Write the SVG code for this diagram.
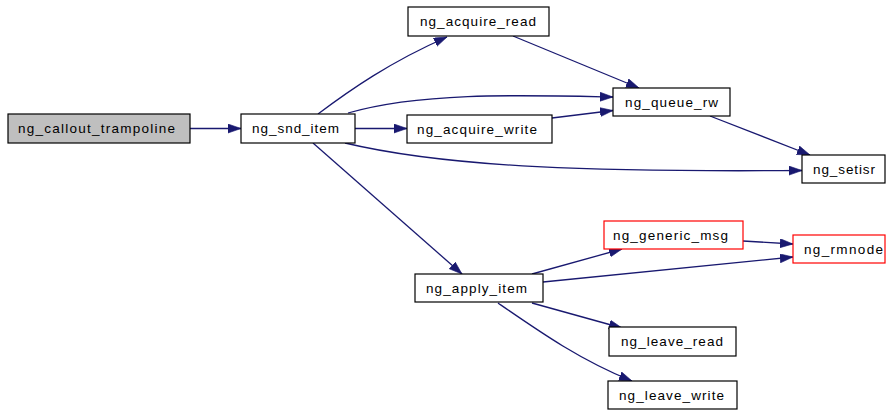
<svg xmlns="http://www.w3.org/2000/svg" width="886" height="410" viewBox="0 0 886 410">
  <style>
    .node rect { fill: #ffffff; stroke: #000000; stroke-width: 1.2; }
    .node.root rect { fill: #bfbfbf; }
    .node.ext rect { stroke: #ff0000; }
    .node text { font-family: "Liberation Sans", Arial, Helvetica, sans-serif; font-size: 13.5px; fill: #000000; }
    .edges path { fill: none; stroke: #191970; stroke-width: 1.3; marker-end: url(#arrow); }
  </style>
  <defs>
    <marker id="arrow" markerUnits="userSpaceOnUse" markerWidth="14" markerHeight="10" refX="13" refY="4.5" orient="auto">
      <path d="M0,0 L13,4.5 L0,9 z" fill="#191970" stroke="#191970" stroke-width="0.6"/>
    </marker>
  </defs>
  <rect width="886" height="410" fill="#ffffff"/>

  <g class="edges">
    <!-- ng_callout_trampoline -> ng_snd_item -->
    <path d="M190,128.5 L241,128.5"/>
    <!-- ng_snd_item -> ng_acquire_read -->
    <path d="M318,114 C350,90 390,62 447,37"/>
    <!-- ng_snd_item -> ng_queue_rw -->
    <path d="M348,113 C420,92 520,95 613,97"/>
    <!-- ng_snd_item -> ng_acquire_write -->
    <path d="M355,128.5 L407,128.5"/>
    <!-- ng_snd_item -> ng_setisr -->
    <path d="M345,143 C450,168 600,172 802,170.5"/>
    <!-- ng_snd_item -> ng_apply_item -->
    <path d="M313,143 L462,274"/>
    <!-- ng_acquire_read -> ng_queue_rw -->
    <path d="M513,36 L639,88"/>
    <!-- ng_acquire_write -> ng_queue_rw -->
    <path d="M552,118 L613,110.5"/>
    <!-- ng_queue_rw -> ng_setisr -->
    <path d="M710,116 L810,155"/>
    <!-- ng_apply_item -> ng_generic_msg -->
    <path d="M532,274 L622,249"/>
    <!-- ng_apply_item -> ng_rmnode -->
    <path d="M543,282 L793,257"/>
    <!-- ng_generic_msg -> ng_rmnode -->
    <path d="M743,241 L793,244"/>
    <!-- ng_apply_item -> ng_leave_read -->
    <path d="M532,303 L622,328"/>
    <!-- ng_apply_item -> ng_leave_write -->
    <path d="M498,303 C540,332 580,360 632,381"/>
  </g>

  <g id="ng_callout_trampoline" class="node root">
    <rect x="8" y="114" width="182" height="29"/>
    <text x="18" y="133" textLength="157" lengthAdjust="spacing">ng_callout_trampoline</text>
  </g>
  <g id="ng_snd_item" class="node">
    <rect x="241" y="114" width="114" height="29"/>
    <text x="252" y="133" textLength="87" lengthAdjust="spacing">ng_snd_item</text>
  </g>
  <g id="ng_acquire_read" class="node">
    <rect x="408" y="7" width="141" height="29"/>
    <text x="420" y="26" textLength="116" lengthAdjust="spacing">ng_acquire_read</text>
  </g>
  <g id="ng_queue_rw" class="node">
    <rect x="613" y="88" width="117" height="28"/>
    <text x="625" y="107" textLength="93" lengthAdjust="spacing">ng_queue_rw</text>
  </g>
  <g id="ng_acquire_write" class="node">
    <rect x="407" y="115" width="145" height="28"/>
    <text x="417" y="134" textLength="120" lengthAdjust="spacing">ng_acquire_write</text>
  </g>
  <g id="ng_setisr" class="node">
    <rect x="802" y="155" width="83" height="28"/>
    <text x="813" y="174" textLength="62" lengthAdjust="spacing">ng_setisr</text>
  </g>
  <g id="ng_generic_msg" class="node ext">
    <rect x="604" y="221" width="139" height="28"/>
    <text x="613" y="240" textLength="115" lengthAdjust="spacing">ng_generic_msg</text>
  </g>
  <g id="ng_rmnode" class="node ext">
    <rect x="793" y="235" width="92" height="28"/>
    <text x="804" y="254" textLength="79" lengthAdjust="spacing">ng_rmnode</text>
  </g>
  <g id="ng_apply_item" class="node">
    <rect x="415" y="274" width="128" height="28"/>
    <text x="426" y="293" textLength="101" lengthAdjust="spacing">ng_apply_item</text>
  </g>
  <g id="ng_leave_read" class="node">
    <rect x="609" y="327" width="127" height="29"/>
    <text x="621" y="346" textLength="102" lengthAdjust="spacing">ng_leave_read</text>
  </g>
  <g id="ng_leave_write" class="node">
    <rect x="608" y="381" width="129" height="28"/>
    <text x="619" y="400" textLength="105" lengthAdjust="spacing">ng_leave_write</text>
  </g>
</svg>
